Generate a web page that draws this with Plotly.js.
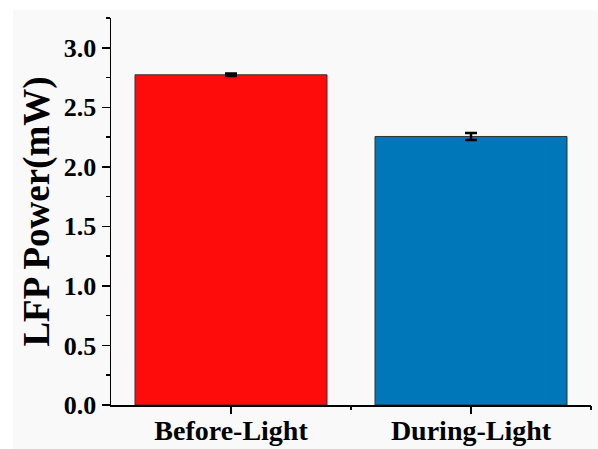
<!DOCTYPE html>
<html>
<head>
<meta charset="utf-8">
<script src="https://cdn.plot.ly/plotly-3.0.1.min.js"></script>
<style>html,body{margin:0;padding:0;background:#fff;}#chart{width:598px;height:449px;}</style>
</head>
<body>
<div id="chart"></div>
<script>
const categories = ['Before-Light', 'During-Light'];
const values = [2.773, 2.255];
const errors = [0.01, 0.03];
const barColors = ['#fe0c0c', '#0077b9'];
const yTickVals = [0, 0.5, 1.0, 1.5, 2.0, 2.5, 3.0];
const yTickText = ['0.0', '0.5', '1.0', '1.5', '2.0', '2.5', '3.0'];

const font = 'Liberation Serif, Times New Roman, serif';

const traces = [{
  type: 'bar',
  x: categories,
  y: values,
  width: 0.8,
  marker: {color: barColors, line: {color: '#333333', width: 1}},
  error_y: {type: 'data', array: errors, visible: true, color: '#000', thickness: 2.5, width: 6},
  hoverinfo: 'none'
}, {
  type: 'scatter', x: [0.5, 1.5], y: [0, 0], xaxis: 'x2', mode: 'markers',
  marker: {opacity: 0}, hoverinfo: 'none', showlegend: false
}];

const layout = {
  width: 598, height: 449,
  margin: {l: 111, r: 7, t: 18, b: 44},
  paper_bgcolor: '#ffffff',
  plot_bgcolor: '#f9f9f9',
  showlegend: false,
  shapes: [{
    type: 'rect', xref: 'paper', yref: 'paper', layer: 'below',
    x0: -0.204, x1: 1.02, y0: -0.12, y1: 1.0207,
    fillcolor: '#f9f9f9', line: {width: 0}
  }],
  xaxis: {
    type: 'category', range: [-0.5, 1.5],
    showline: true, linecolor: '#000', linewidth: 1.5,
    ticks: 'outside', ticklen: 7, tickcolor: '#000', tickwidth: 1.5,
    ticklabelstandoff: -7,
    showgrid: false, zeroline: false,
    tickfont: {family: font, size: 28, color: '#000', weight: 'bold'}
  },
  xaxis2: {
    overlaying: 'x', range: [-0.5, 1.5], showline: false,
    tickvals: [0.5, 1.5], ticktext: ['', ''], ticks: 'outside', ticklen: 4,
    tickcolor: '#000', tickwidth: 1.5, showgrid: false, zeroline: false
  },
  yaxis: {
    range: [0, 3.25],
    tickvals: yTickVals, ticktext: yTickText,
    showline: true, linecolor: '#000', linewidth: 1.5,
    ticks: 'outside', ticklen: 8, tickcolor: '#000', tickwidth: 1.5,
    minor: {ticks: 'outside', ticklen: 4, dtick: 0.25, tick0: 0, tickcolor: '#000', tickwidth: 1.5, showgrid: false},
    showgrid: false, zeroline: false,
    tickfont: {family: font, size: 26, color: '#000', weight: 'bold'},
    title: {text: 'LFP Power(mW)', font: {family: font, size: 37, color: '#000', weight: 'bold'}, standoff: 3}
  }
};

Plotly.newPlot('chart', traces, layout, {displayModeBar: false, staticPlot: true});
</script>
</body>
</html>
